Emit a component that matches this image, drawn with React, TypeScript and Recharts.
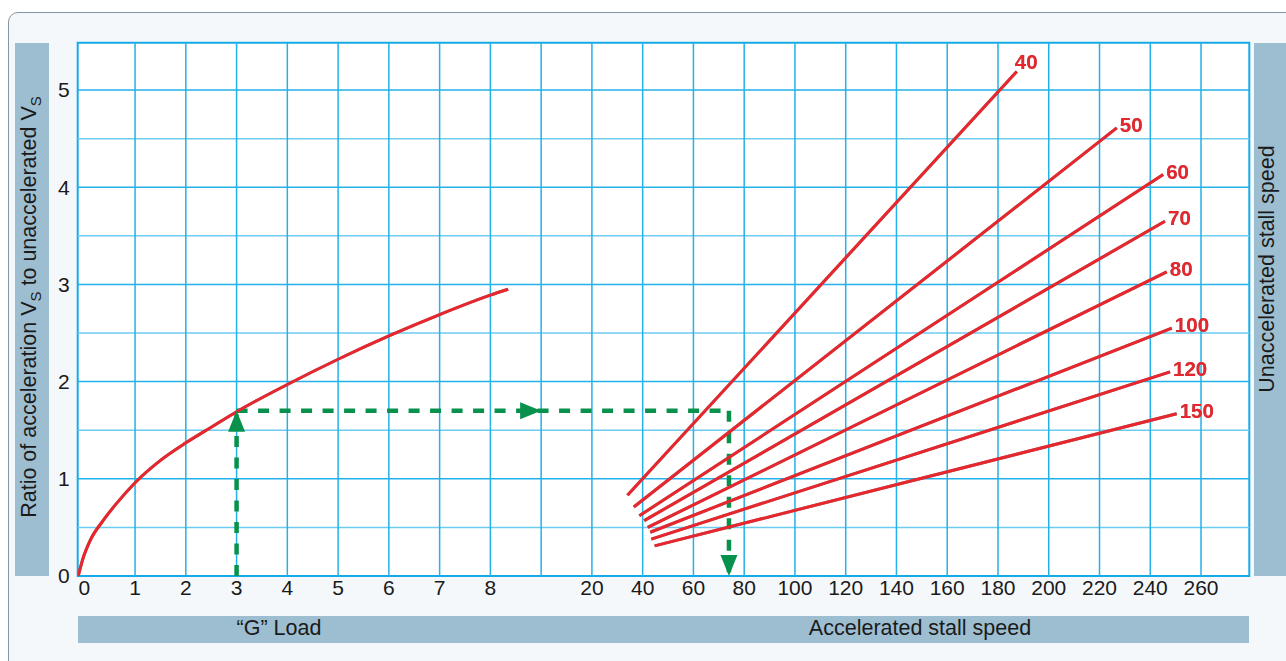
import { LineChart, Line, XAxis, YAxis, CartesianGrid, ReferenceLine, ReferenceArea, ReferenceDot } from "recharts";

// "G" load curve, read in grid columns (one column = 1 G on the left half)
const gLoad = [-0.12, -0.02, 0.11, 0.37, 0.64, 1, 1.5, 2, 2.5, 3, 4, 5, 6, 7, 8, 8.35];
const loadRatio = [0, 0.19, 0.36, 0.57, 0.75, 0.96, 1.19, 1.37, 1.53, 1.69, 1.97, 2.23, 2.47, 2.69, 2.89, 2.95];

// unaccelerated stall speed lines (accelerated stall speed in knots vs ratio)
const stallSpeeds = [40, 50, 60, 70, 80, 100, 120, 150];
const startSpeed = [34, 36.5, 38.7, 40.6, 42, 43, 43.4, 44.7];
const startRatio = [0.83, 0.71, 0.62, 0.57, 0.5, 0.45, 0.38, 0.31];
const endSpeed = [187.4, 226.8, 245.1, 245.8, 246.5, 248.5, 247.8, 250.4];
const endRatio = [5.19, 4.61, 4.13, 3.65, 3.13, 2.55, 2.1, 1.67];

// worked example (3 G -> ratio 1.7 -> 74 kt)
const exampleLoad = 3;
const exampleRatio = 1.7;
const exampleColumnEnd = 12.7;
const exampleArrowColumn = 9;
const exampleSpeed = 74;

// axes
const columnTicks = [0, 1, 2, 3, 4, 5, 6, 7, 8, 10, 11, 12, 13, 14, 15, 16, 17, 18, 19, 20, 21, 22];
const columnTickLabels = ["0", "1", "2", "3", "4", "5", "6", "7", "8", "20", "40", "60", "80", "100", "120", "140", "160", "180", "200", "220", "240", "260"];
const gridColumns = [1, 2, 3, 4, 5, 6, 7, 8, 9, 10, 11, 12, 13, 14, 15, 16, 17, 18, 19, 20, 21, 22];
const ratioTicks = [0, 1, 2, 3, 4, 5];
const ratioMajor = [1, 2, 3, 4, 5];
const ratioMinor = [0.5, 1.5, 2.5, 3.5, 4.5];

const COL_DOMAIN: [number, number] = [-0.13, 22.951];
const SPEED_DOMAIN: [number, number] = [-182.6, 279.02];
const RATIO_DOMAIN: [number, number] = [0, 5.487];

const RED = "#e8262d";
const GREEN = "#08914c";
const GRID = "#22b1e8";
const GRID_LIGHT = "#6ccbf0";
const BAR = "#9dbed1";
const FONT = "'Liberation Sans', Arial, Helvetica, sans-serif";
const TITLE_SIZE = 21.5;
const TICK_SIZE = 21;

// small nudges for the end labels (pixels)
const labelNudge: Record<number, [number, number]> = { 40: [-5, -7] };

const curveData = gLoad.map((u, i) => ({ u, r: loadRatio[i] }));
const speedLines = stallSpeeds.map((v, i) => ({
  v,
  data: [
    { s: startSpeed[i], r: startRatio[i] },
    { s: endSpeed[i], r: endRatio[i] },
  ],
}));

function arrow(dir: "up" | "down" | "right") {
  return (p: any) => {
    const { cx, cy } = p;
    const L = 21;
    const W = 8.5;
    let pts = "";
    if (dir === "up") pts = `${cx},${cy} ${cx - W},${cy + L} ${cx + W},${cy + L}`;
    if (dir === "down") pts = `${cx},${cy} ${cx - W},${cy - L} ${cx + W},${cy - L}`;
    if (dir === "right") pts = `${cx},${cy} ${cx - L},${cy - W} ${cx - L},${cy + W}`;
    return <polygon points={pts} fill={GREEN} />;
  };
}

function endLabel(v: number) {
  const [dx, dy] = labelNudge[v] || [0, 0];
  return (p: any) => (
    <text x={p.cx + 3 + dx} y={p.cy + 4 + dy} fill={RED} fontSize={20.5} fontWeight="bold" className="shadowed">
      {String(v)}
    </text>
  );
}

const titleStyle = { position: "absolute" as const, whiteSpace: "nowrap" as const, fontSize: TITLE_SIZE, lineHeight: 1 };

export default function App() {
  return (
    <div style={{ position: "fixed", left: 0, top: 0, width: 1286, height: 661, overflow: "hidden", background: "#fff", fontFamily: FONT, color: "#1a1a1a" }}>
      <style>{`.shadowed{filter:drop-shadow(0.9px 0.9px 0 rgba(95,95,95,0.75))}`}</style>
      {/* panel */}
      <div style={{ position: "absolute", left: 8, top: 12, width: 1300, height: 670, border: "1.5px solid #8596a1", borderRadius: 10, background: "#f5f8fb" }} />
      {/* title bars */}
      <div style={{ position: "absolute", left: 15, top: 42.7, width: 34, height: 533.3, background: BAR }} />
      <div style={{ position: "absolute", left: 1254, top: 42.7, width: 40, height: 533.3, background: BAR }} />
      <div style={{ position: "absolute", left: 77.7, top: 616, width: 1171.6, height: 27, background: BAR }} />
      <div style={{ ...titleStyle, left: 31, top: 307, transform: "translate(-50%,-50%) rotate(-90deg)" }}>
        Ratio of acceleration V<sub style={{ fontSize: 15 }}>S</sub> to unaccelerated V<sub style={{ fontSize: 15 }}>S</sub>
      </div>
      <div style={{ ...titleStyle, left: 1268, top: 269, transform: "translate(-50%,-50%) rotate(-90deg)" }}>
        Unaccelerated stall speed
      </div>
      <div style={{ ...titleStyle, left: 279, top: 629, transform: "translate(-50%,-50%)" }}>“G” Load</div>
      <div style={{ ...titleStyle, left: 920, top: 629, transform: "translate(-50%,-50%)" }}>Accelerated stall speed</div>

      <div style={{ position: "absolute", left: 0, top: 0 }}>
        <LineChart width={1286} height={661} margin={{ top: 42.7, right: 36.7, bottom: 45, left: 37.7 }}>
          <CartesianGrid xAxisId="u" yAxisId="r" fill="#fff" horizontal={false} vertical={false} />
          <XAxis
            xAxisId="u"
            dataKey="u"
            type="number"
            domain={COL_DOMAIN}
            allowDataOverflow
            ticks={columnTicks}
            interval={0}
            tickFormatter={(v: number) => columnTickLabels[columnTicks.indexOf(v)]}
            height={40}
            tickSize={0}
            tickMargin={4.5}
            axisLine={false}
            tickLine={false}
            tick={{ fill: "#1a1a1a", fontSize: TICK_SIZE }}
          />
          <XAxis xAxisId="s" dataKey="s" type="number" orientation="top" height={0} domain={SPEED_DOMAIN} allowDataOverflow hide />
          <YAxis
            yAxisId="r"
            type="number"
            domain={RATIO_DOMAIN}
            allowDataOverflow
            ticks={ratioTicks}
            interval={0}
            width={40}
            tickSize={0}
            tickMargin={8}
            axisLine={false}
            tickLine={false}
            tick={{ fill: "#1a1a1a", fontSize: TICK_SIZE }}
          />

          {ratioMinor.map((y) => (
            <ReferenceLine key={"m" + y} xAxisId="u" yAxisId="r" y={y} stroke={GRID_LIGHT} strokeWidth={1.5} />
          ))}
          {ratioMajor.map((y) => (
            <ReferenceLine key={"M" + y} xAxisId="u" yAxisId="r" y={y} stroke={GRID} strokeWidth={1.5} />
          ))}
          {gridColumns.map((x) => (
            <ReferenceLine key={"c" + x} xAxisId="u" yAxisId="r" x={x} stroke={GRID} strokeWidth={1.5} />
          ))}
          <ReferenceArea
            xAxisId="u"
            yAxisId="r"
            x1={COL_DOMAIN[0]}
            x2={COL_DOMAIN[1]}
            y1={RATIO_DOMAIN[0]}
            y2={RATIO_DOMAIN[1]}
            fill="none"
            fillOpacity={0}
            stroke="#14abe6"
            strokeWidth={2}
            ifOverflow="visible"
          />

          {/* worked example */}
          <Line
            xAxisId="u"
            yAxisId="r"
            data={[{ u: exampleLoad, r: 0 }, { u: exampleLoad, r: exampleRatio }]}
            dataKey="r"
            type="linear"
            stroke={GREEN}
            strokeWidth={4.5}
            strokeDasharray="11 10.5"
            dot={false}
            isAnimationActive={false}
          />
          <Line
            xAxisId="u"
            yAxisId="r"
            data={[{ u: exampleLoad, r: exampleRatio }, { u: exampleColumnEnd, r: exampleRatio }]}
            dataKey="r"
            type="linear"
            stroke={GREEN}
            strokeWidth={4.5}
            strokeDasharray="11 10.5"
            dot={false}
            isAnimationActive={false}
          />
          <Line
            xAxisId="s"
            yAxisId="r"
            data={[{ s: exampleSpeed, r: exampleRatio }, { s: exampleSpeed, r: 0 }]}
            dataKey="r"
            type="linear"
            stroke={GREEN}
            strokeWidth={4.5}
            strokeDasharray="11 10.5"
            dot={false}
            isAnimationActive={false}
          />

          <Line
            xAxisId="u"
            yAxisId="r"
            data={curveData}
            dataKey="r"
            type="monotone"
            stroke={RED}
            strokeWidth={3}
            dot={false}
            className="shadowed"
            isAnimationActive={false}
          />
          {speedLines.map((l) => (
            <Line
              key={l.v}
              xAxisId="s"
              yAxisId="r"
              data={l.data}
              dataKey="r"
              type="linear"
              stroke={RED}
              strokeWidth={3}
              dot={false}
              className="shadowed"
              isAnimationActive={false}
            />
          ))}

          <ReferenceDot xAxisId="u" yAxisId="r" x={exampleLoad} y={exampleRatio} r={0} ifOverflow="visible" shape={arrow("up")} />
          <ReferenceDot xAxisId="u" yAxisId="r" x={exampleArrowColumn} y={exampleRatio} r={0} ifOverflow="visible" shape={arrow("right")} />
          <ReferenceDot xAxisId="s" yAxisId="r" x={exampleSpeed} y={0} r={0} ifOverflow="visible" shape={arrow("down")} />
          {speedLines.map((l) => (
            <ReferenceDot
              key={"lbl" + l.v}
              xAxisId="s"
              yAxisId="r"
              x={l.data[1].s}
              y={l.data[1].r}
              r={0}
              ifOverflow="visible"
              shape={endLabel(l.v)}
            />
          ))}
        </LineChart>
      </div>
    </div>
  );
}
